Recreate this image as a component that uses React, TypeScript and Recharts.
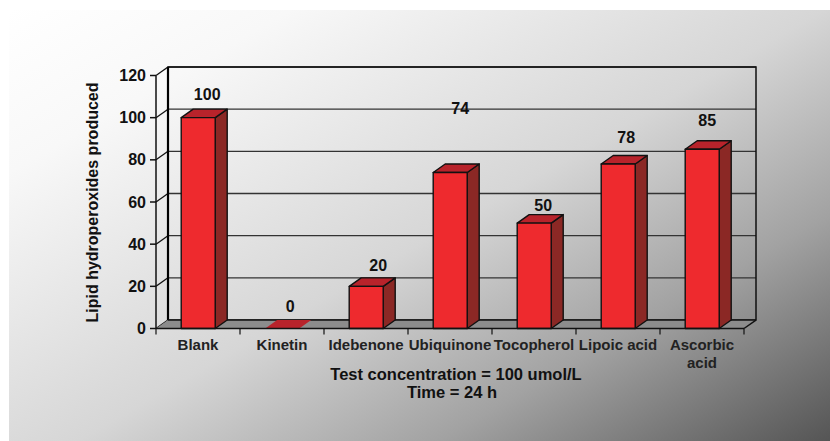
import { BarChart, Bar, XAxis, YAxis, CartesianGrid, ReferenceArea, LabelList, Label } from 'recharts';

const compounds = ['Blank', 'Kinetin', 'Idebenone', 'Ubiquinone', 'Tocopherol', 'Lipoic acid', 'Ascorbic acid'];
const hydroperoxides = [100, 0, 20, 74, 50, 78, 85];
const yTicks = [0, 20, 40, 60, 80, 100, 120];

// where each value label sits relative to its bar
const labelLift = [23, 22, 21, 64, 18, 27, 29];
const labelShift = [9, 8, 12, 10, 9, 8, 5];

const data = compounds.map((name, i) => ({ name, value: hydroperoxides[i] }));

const W = 830;
const H = 441;
// depth of the fake 3D box
const DX = 12;
const DY = 8.5;
const FONT = '"Liberation Sans", Arial, sans-serif';

const Bar3D = (props: any) => {
  const { x, y, width, height } = props;
  const front = '#ee2a2e';
  const top = '#b8232b';
  const side = '#8b2825';
  const sw = 1.4;
  return (
    <g stroke="#111" strokeWidth={sw} strokeLinejoin="round">
      {height > 0 && (
        <path d={`M${x + width},${y} L${x + width + DX},${y - DY} L${x + width + DX},${y + height - DY} L${x + width},${y + height} Z`} fill={side} />
      )}
      <path d={`M${x},${y} L${x + DX},${y - DY} L${x + width + DX},${y - DY} L${x + width},${y} Z`} fill={top} stroke={height > 0 ? '#111' : 'none'} />
      {height > 0 && <rect x={x} y={y} width={width} height={height} fill={front} />}
    </g>
  );
};

const BoxShape = (props: any) => {
  const { x, y, width, height } = props;
  const bottom = y + height;
  const right = x + width;
  return (
    <g>
      <path d={`M${x},${bottom} L${x + DX},${bottom - DY} L${right + DX},${bottom - DY} L${right},${bottom} Z`} fill="#8c8c8c" />
      <path d={`M${x + DX},${bottom - DY} L${x + DX},${y - DY} L${right + DX},${y - DY} L${right + DX},${bottom - DY} L${right},${bottom}`} fill="none" stroke="#111" strokeWidth={1.5} />
      <path d={`M${x + DX},${y - DY} L${x + DX},${bottom - DY}`} stroke="#000" strokeWidth={2.2} />
      <path d={`M${x + DX},${bottom - DY} L${right + DX},${bottom - DY}`} stroke="#111" strokeWidth={1.5} />
    </g>
  );
};

const GridLine = (props: any) => {
  const { x1, x2, y1, y2 } = props;
  return (
    <g>
      <line x1={x1 + DX} x2={x2 + DX} y1={y1 - DY} y2={y2 - DY} stroke="#333" strokeWidth={1.3} />
      <line x1={x1} x2={x1 + DX} y1={y1} y2={y1 - DY} stroke="#111" strokeWidth={1.3} />
    </g>
  );
};

const YTick = ({ x, y, payload }: any) => (
  <g>
    <line x1={x} x2={x + 6} y1={y} y2={y} stroke="#111" strokeWidth={1.5} />
    <text x={x - 4} y={y + 5.5} textAnchor="end" fontFamily={FONT} fontWeight={700} fontSize={16} fill="#111">
      {payload.value}
    </text>
  </g>
);

const XTick = ({ x, y, payload, index }: any) => {
  const band = 84;
  const left = x - band / 2;
  const words = payload.value === 'Ascorbic acid' ? ['Ascorbic', 'acid'] : [payload.value];
  return (
    <g>
      <line x1={left} x2={left} y1={y - 14} y2={y - 8} stroke="#111" strokeWidth={1.2} />
      {index === compounds.length - 1 && <line x1={left + band} x2={left + band} y1={y - 14} y2={y - 8} stroke="#111" strokeWidth={1.2} />}
      {words.map((w: string, i: number) => (
        <text key={w} x={x} y={y + 7 + i * 18} textAnchor="middle" fontFamily={FONT} fontWeight={700} fontSize={15} fill="#222">
          {w}
        </text>
      ))}
    </g>
  );
};

const ValueLabel = ({ x, y, width, value, index }: any) => (
  <text x={x + width / 2 + labelShift[index]} y={y - labelLift[index] + 5.5} textAnchor="middle" fontFamily={FONT} fontWeight={700} fontSize={16} fill="#111">
    {value}
  </text>
);

const Footer = () => (
  <g fontFamily={FONT} fontWeight={700} fontSize={16.5} fill="#111" textAnchor="middle">
    <text x={456} y={380}>Test concentration = 100 umol/L</text>
    <text x={452} y={398}>Time = 24 h</text>
  </g>
);

export default function App() {
  return (
    <div style={{ position: 'absolute', left: 0, top: 0, width: W, height: H, background: '#fff' }}>
      <div
        style={{
          position: 'absolute',
          left: 9,
          top: 10,
          right: 0,
          bottom: 0,
          background: 'linear-gradient(150deg, #ffffff 0%, #f8f8f8 18%, #d6d6d6 52%, #a2a2a2 75%, #555555 100%)',
        }}
      />
      <div style={{ position: 'absolute', left: 0, top: 0 }}>
        <BarChart width={W} height={H} data={data} margin={{ top: 75.5, right: 86, bottom: 82.5, left: 90 }} barCategoryGap="30%">
          <ReferenceArea yAxisId={0} y1={0} y2={120} shape={<BoxShape />} ifOverflow="visible" />
          <CartesianGrid vertical={false} horizontal={(p: any) => <GridLine key={p.key} {...p} />} />
          <XAxis dataKey="name" height={30} interval={0} axisLine={{ stroke: '#111', strokeWidth: 1.5 }} tickLine={false} tick={<XTick />} tickMargin={8} />
          <YAxis
            domain={[0, 120]}
            ticks={yTicks}
            width={66}
            axisLine={{ stroke: '#111', strokeWidth: 1.5 }}
            tickLine={false}
            tickMargin={0}
            tick={<YTick />}
            interval={0}
          >
            <Label content={() => (
              <text transform="translate(98,202.5) rotate(-90)" textAnchor="middle" fontFamily={FONT} fontWeight={700} fontSize={16} fill="#111">
                Lipid hydroperoxides produced
              </text>
            )} />
          </YAxis>
          <Bar dataKey="value" shape={<Bar3D />} isAnimationActive={false}>
            <LabelList dataKey="value" content={<ValueLabel />} />
          </Bar>
          <Footer />
        </BarChart>
      </div>
    </div>
  );
}
